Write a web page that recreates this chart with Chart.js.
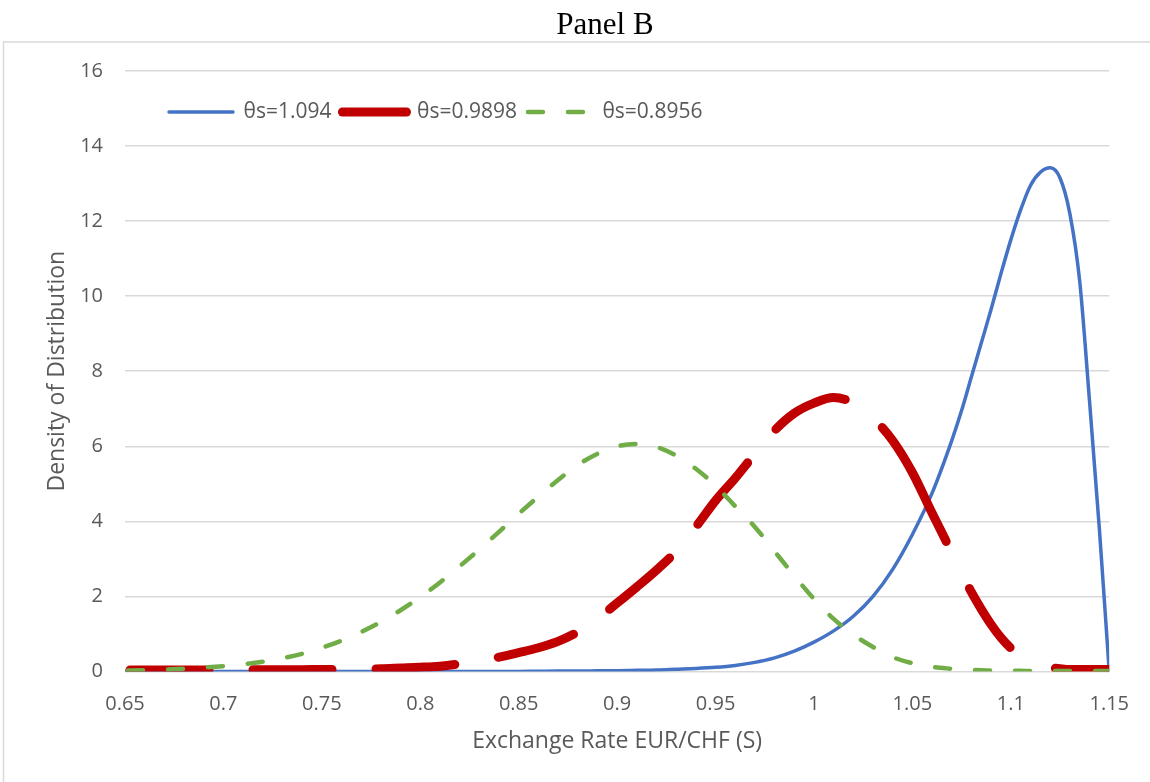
<!DOCTYPE html>
<html>
<head>
<meta charset="utf-8">
<title>Panel B</title>
<script src="https://cdn.jsdelivr.net/npm/chart.js@4.4.1/dist/chart.umd.min.js"></script>
<style>
    html, body { margin: 0; padding: 0; background: #fff; }
    canvas { display: block; }
</style>
</head>
<body>
<canvas id="chart" width="1150" height="782"></canvas>
<script>
// exchange rate (x)
const rates = [
    0.65, 0.66, 0.67, 0.68, 0.69, 0.70, 0.71, 0.72, 0.73, 0.74,
    0.75, 0.76, 0.77, 0.78, 0.79, 0.80, 0.81, 0.82, 0.83, 0.84,
    0.85, 0.86, 0.87, 0.88, 0.89, 0.90, 0.91, 0.92, 0.93, 0.94,
    0.95, 0.96, 0.97, 0.98, 0.99, 1.00, 1.01, 1.02, 1.03, 1.04,
    1.05, 1.06, 1.07, 1.075, 1.08, 1.085, 1.09, 1.095, 1.10, 1.105,
    1.11, 1.115, 1.12, 1.125, 1.13, 1.135, 1.14, 1.145, 1.15
];
// density for θs=1.094
const density1094 = [
    0, 0, 0, 0, 0, 0, 0, 0, 0, 0,
    0, 0, 0, 0, 0, 0, 0, 0, 0, 0,
    0, 0.005, 0.01, 0.01, 0.015, 0.02, 0.03, 0.04, 0.06, 0.08,
    0.11, 0.16, 0.24, 0.36, 0.54, 0.78, 1.08, 1.47, 2.0, 2.72,
    3.65, 4.75, 6.15, 6.95, 7.85, 8.75, 9.65, 10.6, 11.5, 12.3,
    12.95, 13.3, 13.42, 13.15, 12.2, 10.4, 7.2, 3.8, 0
];
// density for θs=0.9898
const density9898 = [
    0.04, 0.04, 0.04, 0.04, 0.04, 0.04, 0.045, 0.045, 0.045, 0.045,
    0.05, 0.05, 0.06, 0.07, 0.09, 0.11, 0.14, 0.2, 0.28, 0.38,
    0.5, 0.63, 0.8, 1.05, 1.4, 1.82, 2.25, 2.7, 3.2, 3.85,
    4.55, 5.15, 5.8, 6.42, 6.88, 7.15, 7.3, 7.15, 6.75, 6.15,
    5.3, 4.22, 3.17, 2.64, 2.11, 1.66, 1.25, 0.9, 0.62, 0.4,
    0.25, 0.15, 0.1, 0.07, 0.05, 0.05, 0.05, 0.05, 0.05
];
// density for θs=0.8956
const density8956 = [
    0.02, 0.03, 0.05, 0.07, 0.1, 0.14, 0.19, 0.26, 0.35, 0.47,
    0.63, 0.82, 1.05, 1.32, 1.63, 1.98, 2.37, 2.8, 3.25, 3.72,
    4.2, 4.66, 5.1, 5.5, 5.8, 6.0, 6.06, 5.98, 5.75, 5.4,
    4.95, 4.4, 3.85, 3.2, 2.55, 1.93, 1.4, 0.98, 0.65, 0.38,
    0.22, 0.12, 0.07, 0.05, 0.04, 0.03, 0.025, 0.02, 0.02, 0.015,
    0.01, 0.01, 0.01, 0.01, 0.01, 0.01, 0.01, 0.01, 0.01
];
const seriesLabels = ['θs=1.094', 'θs=0.9898', 'θs=0.8956'];
const xTicks = [0.65, 0.7, 0.75, 0.8, 0.85, 0.9, 0.95, 1, 1.05, 1.1, 1.15];
const yTicks = [0, 2, 4, 6, 8, 10, 12, 14, 16];

const textGray = '#595959';
const gridGray = '#d9d9d9';

// pair x values with a series
function toPoints(values) {
    return rates.map((x, i) => ({ x: x, y: values[i] }));
}

// the red long-dash restarts a little on the falling side, like Excel drew it
function redDash(ctx) {
    const x = ctx.p0.parsed.x;
    if (x < 1.0199) return [79, 44];
    if (x < 1.0699) return [131, 100];
    return [72, 51];
}
function redDashOffset(ctx) {
    const x = ctx.p0.parsed.x;
    if (x < 1.0199) return -5;
    if (x < 1.0699) return -38;
    return -40;
}

// legend samples keep the dash of each line
function legendLabels(chart) {
    const items = Chart.defaults.plugins.legend.labels.generateLabels(chart);
    items.forEach(item => {
        const ds = chart.data.datasets[item.datasetIndex];
        item.lineDash = ds.borderDash || [];
        item.lineDashOffset = 0;
        item.lineCap = 'round';
    });
    return items;
}

// white background and the outer frame
const framePlugin = {
    id: 'frame',
    beforeDraw(chart) {
        const ctx = chart.ctx;
        ctx.save();
        ctx.fillStyle = '#ffffff';
        ctx.fillRect(0, 0, chart.width, chart.height);
        ctx.strokeStyle = gridGray;
        ctx.lineWidth = 1.5;
        ctx.beginPath();
        ctx.moveTo(3.5, chart.height);
        ctx.lineTo(3.5, 42);
        ctx.lineTo(chart.width, 42);
        ctx.stroke();
        ctx.restore();
    }
};

// move title and legend to where Excel put them
const placePlugin = {
    id: 'place',
    afterLayout(chart) {
        const title = chart.titleBlock;
        title.left = 100;
        title.top = 7;
        title.bottom = title.top + title.height;
        const legend = chart.legend;
        legend.left = 158;
        legend.top = 90.5;
        legend.right = legend.left + legend.width;
        legend.bottom = legend.top + legend.height;
    }
};

function drawChart() {
    const chartData = {
        datasets: [{
            label: seriesLabels[0],
            data: toPoints(density1094),
            borderColor: '#4472C4',
            backgroundColor: '#4472C4',
            borderWidth: 3.5,
            borderCapStyle: 'round',
            order: 2
        }, {
            label: seriesLabels[1],
            data: toPoints(density9898),
            borderColor: '#C00000',
            backgroundColor: '#C00000',
            borderWidth: 9,
            borderDash: [79, 44],
            borderDashOffset: -5,
            borderCapStyle: 'round',
            segment: {
                borderDash: redDash,
                borderDashOffset: redDashOffset
            },
            order: 1
        }, {
            label: seriesLabels[2],
            data: toPoints(density8956),
            borderColor: '#70AD47',
            backgroundColor: '#70AD47',
            borderWidth: 4.5,
            borderDash: [15, 25],
            borderDashOffset: -3,
            borderCapStyle: 'round',
            order: 0
        }]
    };

    const chartOption = {
        responsive: false,
        animation: false,
        events: [],
        layout: {
            padding: { left: 42, right: 40, top: 0, bottom: 27 }
        },
        elements: {
            point: { radius: 0 },
            line: { cubicInterpolationMode: 'monotone' }
        },
        plugins: {
            title: {
                display: true,
                text: 'Panel B',
                color: '#000000',
                font: { family: '"Liberation Serif", "Times New Roman", serif', size: 31, weight: 'normal' },
                padding: { top: 0, bottom: -8.2 }
            },
            legend: {
                position: 'top',
                align: 'start',
                labels: {
                    usePointStyle: true,
                    pointStyle: 'line',
                    pointStyleWidth: 64,
                    padding: 11,
                    color: textGray,
                    font: { family: '"Open Sans", sans-serif', size: 21 },
                    generateLabels: legendLabels,
                    sort: (a, b) => a.datasetIndex - b.datasetIndex
                }
            },
            tooltip: { enabled: false }
        },
        scales: {
            x: {
                type: 'linear',
                min: 0.65,
                max: 1.15,
                afterBuildTicks: axis => { axis.ticks = xTicks.map(v => ({ value: v })); },
                grid: { display: false, drawTicks: false },
                border: { display: false },
                ticks: {
                    color: textGray,
                    font: { family: '"Open Sans", sans-serif', size: 20 },
                    padding: 21,
                    maxRotation: 0,
                    autoSkip: false,
                    callback: v => String(v)
                },
                title: {
                    display: true,
                    text: 'Exchange Rate EUR/CHF (S)',
                    color: textGray,
                    font: { family: '"Open Sans", sans-serif', size: 23 },
                    padding: { top: -10, bottom: 0 }
                }
            },
            y: {
                type: 'linear',
                min: 0,
                max: 16,
                afterBuildTicks: axis => { axis.ticks = yTicks.map(v => ({ value: v })); },
                afterFit: axis => { axis.width = 83; },
                grid: { color: gridGray, lineWidth: 1.5, drawTicks: false },
                border: { display: false },
                ticks: {
                    color: textGray,
                    font: { family: '"Open Sans", sans-serif', size: 20 },
                    padding: 22,
                    callback: v => String(v)
                },
                title: {
                    display: true,
                    text: 'Density of Distribution',
                    color: textGray,
                    font: { family: '"Open Sans", sans-serif', size: 23 },
                    padding: { top: 2, bottom: 0 }
                }
            }
        }
    };

    return new Chart(document.getElementById('chart'), {
        type: 'line',
        data: chartData,
        options: chartOption,
        plugins: [framePlugin, placePlugin]
    });
}

drawChart();
</script>
</body>
</html>
